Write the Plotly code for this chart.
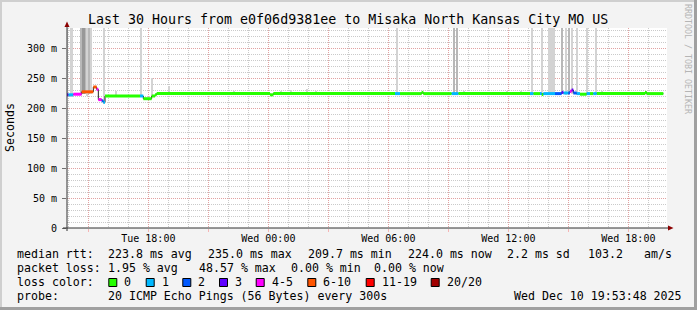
import plotly.graph_objects as go
import pandas as pd

# ---------------- data ----------------
DAY = {"Tue": "2025-12-09", "Wed": "2025-12-10"}

# median RTT runs (ms) with number of lost pings (out of 20)
med_start = ["Tue 13:55", "Tue 14:00", "Tue 14:15", "Tue 14:40", "Tue 15:15", "Tue 15:25",
             "Tue 15:30", "Tue 15:40", "Tue 15:45", "Tue 15:50", "Tue 17:35", "Tue 17:45",
             "Tue 18:10", "Tue 18:20", "Tue 18:25", "Wed 00:05", "Wed 00:15", "Wed 06:20",
             "Wed 06:35", "Wed 07:40", "Wed 07:45", "Wed 09:10", "Wed 09:30", "Wed 13:05",
             "Wed 13:15", "Wed 13:35", "Wed 13:40", "Wed 13:45", "Wed 14:20", "Wed 14:40",
             "Wed 14:45", "Wed 15:00", "Wed 15:05", "Wed 15:10", "Wed 15:15", "Wed 15:25",
             "Wed 15:35", "Wed 15:55", "Wed 16:05", "Wed 16:15", "Wed 16:25", "Wed 18:50",
             "Wed 18:55"]
med_end = med_start[1:] + ["Wed 19:45"]
med_value = [222.0, 222.0, 223.0, 227.0, 235.0, 231.0,
             214.0, 212.0, 209.7, 220.0, 220.0, 215.5,
             220.0, 222.0, 224.0, 222.0, 224.0, 224.0,
             224.0, 226.0, 224.0, 224.0, 224.0, 224.0,
             224.0, 224.0, 222.5, 224.0, 224.0, 226.0,
             225.0, 225.0, 228.0, 230.0, 225.0, 224.0,
             223.0, 224.0, 224.0, 224.0, 224.0, 226.0,
             224.0]
med_loss = [3, 1, 4, 7, 7, 5,
            4, 2, 1, 0, 1, 0,
            0, 0, 0, 0, 0, 1,
            0, 0, 0, 1, 0, 1,
            0, 1, 0, 1, 2, 3,
            1, 2, 4, 3, 2, 1,
            0, 1, 0, 1, 0, 0,
            0]

# smoke: spread of the individual pings (ms)
smoke_start = ["Tue 13:55", "Tue 14:05", "Tue 14:35", "Tue 14:40", "Tue 14:50", "Tue 14:55",
               "Tue 15:00", "Tue 15:05", "Tue 15:45", "Tue 16:20", "Tue 17:35", "Tue 18:10",
               "Tue 19:00", "Tue 22:15", "Wed 00:35", "Wed 01:05", "Wed 01:55", "Wed 02:20",
               "Wed 06:25", "Wed 09:15", "Wed 09:25", "Wed 09:45", "Wed 11:55", "Wed 12:35",
               "Wed 13:10", "Wed 13:40", "Wed 14:00", "Wed 14:40", "Wed 14:50", "Wed 15:00",
               "Wed 15:10", "Wed 15:25", "Wed 15:55", "Wed 16:20", "Wed 16:40", "Wed 18:50"]
smoke_end = ["Tue 14:00", "Tue 14:15", "Tue 14:40", "Tue 14:50", "Tue 14:55", "Tue 15:00",
             "Tue 15:05", "Tue 15:10", "Tue 15:50", "Tue 16:25", "Tue 17:40", "Tue 18:15",
             "Tue 19:05", "Tue 22:20", "Wed 00:40", "Wed 01:10", "Wed 02:00", "Wed 02:25",
             "Wed 06:30", "Wed 09:20", "Wed 09:30", "Wed 09:50", "Wed 12:00", "Wed 12:40",
             "Wed 13:15", "Wed 13:45", "Wed 14:20", "Wed 14:45", "Wed 14:55", "Wed 15:05",
             "Wed 15:15", "Wed 15:30", "Wed 16:00", "Wed 16:25", "Wed 16:45", "Wed 18:55"]
smoke_low = [219, 219, 224, 224, 224, 220, 224, 224, 207, 222, 218, 218,
             222, 222, 222, 222, 222, 222, 221, 221, 221, 222, 222, 222,
             221, 221, 221, 224, 222, 224, 224, 222, 221, 221, 222, 222]
smoke_high = [400, 400, 400, 400, 400, 400, 400, 400, 400, 229, 400, 250,
              237, 229, 229, 230, 231, 229, 400, 400, 400, 229, 229, 229,
              400, 400, 400, 400, 400, 400, 400, 400, 400, 400, 229, 228]
smoke_density = [1, 1, 2, 3, 2, 1, 2, 1, 1, 1, 1, 1,
                 1, 1, 1, 1, 1, 1, 1, 2, 2, 1, 1, 1,
                 1, 1, 1, 2, 1, 2, 1, 1, 1, 1, 1, 1]

loss_labels = ["0", "1", "2", "3", "4-5", "6-10", "11-19", "20/20"]
loss_upper = [0, 1, 2, 3, 5, 10, 19, 20]
loss_colors = ["#26FF00", "#00B8FF", "#0059FF", "#5E00FF", "#FF00FF", "#FF5500", "#FF0000", "#A10000"]

y_tickvals = [0, 50, 100, 150, 200, 250, 300]
y_ticktext = ["0", "50 m", "100 m", "150 m", "200 m", "250 m", "300 m"]
x_tickvals = ["Tue 15:00", "Tue 18:00", "Tue 21:00", "Wed 00:00", "Wed 03:00",
              "Wed 06:00", "Wed 09:00", "Wed 12:00", "Wed 15:00", "Wed 18:00"]
x_ticktext = ["", "Tue 18:00", "", "Wed 00:00", "", "Wed 06:00", "", "Wed 12:00", "", "Wed 18:00"]
x_range = ["Tue 13:56", "Wed 19:56"]

title = "Last 30 Hours from e0f06d9381ee to Misaka North Kansas City MO US"
stats_rtt = ["median rtt:", "223.8 ms avg", "235.0 ms max", "209.7 ms min", "224.0 ms now",
             "2.2 ms sd", "103.2", "am/s"]
stats_loss = ["packet loss:", "1.95 % avg", "48.57 % max", "0.00 % min", "0.00 % now"]
probe_text = ["probe:", "20 ICMP Echo Pings (56 Bytes) every 300s", "Wed Dec 10 19:53:48 2025"]


# ---------------- helpers ----------------
def ts(s):
    d, t = s.split()
    return pd.Timestamp(f"{DAY[d]} {t}")


def loss_class(n):
    for i, u in enumerate(loss_upper):
        if n <= u:
            return i
    return len(loss_upper) - 1


MONO = "DejaVu Sans Mono"
L, R, T, B = 67, 667, 28, 228  # plot area in px


def px(x):
    return (x - L) / (R - L)


def py(y):
    return (B - y) / (B - T)


fig = go.Figure()

# smoke
shade = {1: "#D3D3D3", 2: "#B8B8B8", 3: "#989898"}
s0 = [ts(s) for s in smoke_start]
s1 = [ts(s) for s in smoke_end]
fig.add_trace(go.Bar(
    x=[a + (b - a) / 2 for a, b in zip(s0, s1)],
    y=[h - l for h, l in zip(smoke_high, smoke_low)],
    base=smoke_low,
    width=[(b - a).total_seconds() * 1000 for a, b in zip(s0, s1)],
    marker=dict(color=[shade[d] for d in smoke_density], line=dict(width=0)),
    hoverinfo="skip",
))

# thin dark median line (shows the steps)
m0 = [ts(s) for s in med_start]
m1 = [ts(s) for s in med_end]
fig.add_trace(go.Scatter(
    x=m0 + [m1[-1]], y=med_value + [med_value[-1]], mode="lines",
    line=dict(color="#202020", width=1, shape="hv"), hoverinfo="skip",
))

# loss-colored thick segments
for ci, col in enumerate(loss_colors):
    xs, ys = [], []
    for a, b, v, n in zip(m0, m1, med_value, med_loss):
        if loss_class(n) == ci:
            xs += [a, b, None]
            ys += [v, v, None]
    if xs:
        fig.add_trace(go.Scatter(x=xs, y=ys, mode="lines",
                                 line=dict(color=col, width=3), hoverinfo="skip"))

# ---------------- decorations ----------------
shapes = []
# frame
shapes.append(dict(type="rect", xref="paper", yref="paper", x0=px(0), x1=px(697), y0=py(0), y1=py(2),
                   fillcolor="#CFCFCF", line=dict(width=0), layer="above"))
shapes.append(dict(type="rect", xref="paper", yref="paper", x0=px(0), x1=px(2), y0=py(0), y1=py(310),
                   fillcolor="#CFCFCF", line=dict(width=0), layer="above"))
shapes.append(dict(type="rect", xref="paper", yref="paper", x0=px(0), x1=px(697), y0=py(307), y1=py(310),
                   fillcolor="#A0A0A0", line=dict(width=0), layer="above"))
shapes.append(dict(type="rect", xref="paper", yref="paper", x0=px(694), x1=px(697), y0=py(0), y1=py(310),
                   fillcolor="#A0A0A0", line=dict(width=0), layer="above"))
# axes
shapes.append(dict(type="line", xref="paper", yref="paper", x0=px(67), x1=px(67), y0=py(231), y1=py(25),
                   line=dict(color="#303030", width=1), layer="above"))
shapes.append(dict(type="line", xref="paper", yref="paper", x0=px(63), x1=px(670), y0=py(228), y1=py(228),
                   line=dict(color="#303030", width=1), layer="above"))
shapes.append(dict(type="path", xref="paper", yref="paper",
                   path=f"M {px(64.5)} {py(27)} L {px(69.5)} {py(27)} L {px(67)} {py(21.5)} Z",
                   fillcolor="#8B0000", line=dict(width=0), layer="above"))
shapes.append(dict(type="path", xref="paper", yref="paper",
                   path=f"M {px(668)} {py(225.5)} L {px(668)} {py(230.5)} L {px(673.5)} {py(228)} Z",
                   fillcolor="#8B0000", line=dict(width=0), layer="above"))

annotations = []


def text(s, x, y, size=11.6, anchor="left", color="#000000", angle=0):
    annotations.append(dict(text=s, x=px(x), y=py(y), xref="paper", yref="paper",
                            xanchor=anchor, yanchor="middle", showarrow=False,
                            textangle=angle, borderpad=0,
                            font=dict(family=MONO, size=size, color=color)))


text(title, 348, 19.5, size=13.3, anchor="center")
text("Seconds", 10, 128, size=11.6, anchor="center", angle=-90)
text("RRDTOOL / TOBI OETIKER", 688, 59, size=8.3, anchor="center", color="#B5B5B5", angle=90)

rtt_x = [16, 107.3, 207.3, 307, 407.3, 505.7, 586.7, 643.3]
for s, x in zip(stats_rtt, rtt_x):
    text(s, x, 254.3)
loss_x = [16, 107.3, 198, 290, 372.7]
for s, x in zip(stats_loss, loss_x):
    text(s, x, 268.3)
text("loss color:", 16, 282.3)
box_x = [108.3, 145.7, 182.3, 219, 255.7, 307.3, 365.7, 430.7]
for lab, col, bx in zip(loss_labels, loss_colors, box_x):
    shapes.append(dict(type="rect", xref="paper", yref="paper", x0=px(bx + 0.5), x1=px(bx + 8.5),
                       y0=py(278.5), y1=py(286.5), fillcolor=col,
                       line=dict(color="#000000", width=1), layer="above"))
    text(lab, bx + 15, 282.3)
probe_x = [16, 107.3, 513.3]
for s, x in zip(probe_text, probe_x):
    text(s, x, 296)

grid_major = "rgba(245,130,130,0.55)"
grid_minor = "rgba(150,150,150,0.5)"

fig.update_layout(
    width=697, height=310,
    margin=dict(l=L, r=697 - R, t=T, b=310 - B, pad=0),
    paper_bgcolor="#F3F3F3", plot_bgcolor="#FFFFFF",
    showlegend=False, barmode="overlay", bargap=0,
    shapes=shapes, annotations=annotations,
    xaxis=dict(
        type="date", range=[ts(s) for s in x_range],
        tickmode="array", tickvals=[ts(s) for s in x_tickvals], ticktext=x_ticktext,
        ticks="outside", ticklen=3, tickcolor=grid_major,
        showgrid=True, gridcolor=grid_major, griddash="1px,1px", gridwidth=1,
        minor=dict(dtick=3600000, tick0=ts("Tue 00:00"), showgrid=True, gridcolor=grid_minor,
                   griddash="1px,1px", gridwidth=1, ticks=""),
        tickfont=dict(family=MONO, size=10, color="#000000"),
        showline=False, zeroline=False, fixedrange=True, ticklabelstandoff=-2,
    ),
    yaxis=dict(
        range=[0, 333.333], tickmode="array", tickvals=y_tickvals, ticktext=y_ticktext,
        ticks="outside", ticklen=4, tickcolor="#707070",
        showgrid=True, gridcolor=grid_major, griddash="1px,1px", gridwidth=1,
        minor=dict(dtick=10, tick0=0, showgrid=True, gridcolor=grid_minor,
                   griddash="1px,1px", gridwidth=1, ticks=""),
        tickfont=dict(family=MONO, size=10, color="#000000"),
        showline=False, zeroline=False, fixedrange=True, ticklabelstandoff=3,
    ),
)

fig.write_html("out.html")
